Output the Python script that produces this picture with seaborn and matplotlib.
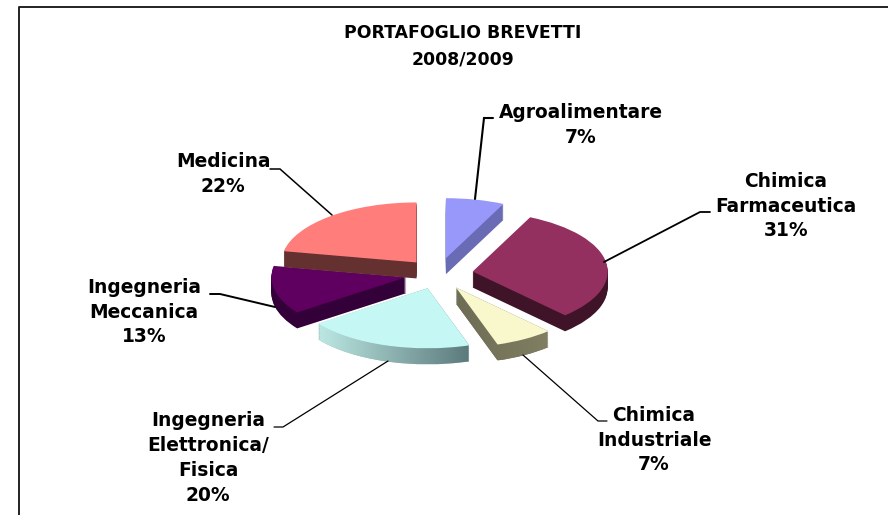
import numpy as np
import seaborn as sns
import matplotlib.pyplot as plt
from matplotlib.path import Path

sns.set_theme(style="white")
plt.rcParams['font.family'] = ['DejaVu Sans']

# Data, clockwise from 12 o'clock
categories = ['Agroalimentare', 'Chimica\nFarmaceutica', 'Chimica\nIndustriale',
              'Ingegneria\nElettronica/\nFisica', 'Ingegneria\nMeccanica', 'Medicina']
shares = [7, 31, 7, 20, 13, 22]
top_colors = ['#9798FA', '#943060', '#F8F8CC', '#C5F8F5', '#5F0060', '#FF7E7C']
side_colors = ['#6A6BB5', '#401428', '#75745A', '#92BDBB', '#33003A', '#653030']
side_gradients = {2: ('#6E6D55', '#807F62'), 3: ('#BCE8E3', '#5C7A7C')}
draw_rank = [2, 3, 4, 5, 0, 1]   # back slices first
explode = [0.27, 0.26, 0.26, 0.25, 0.24, 0.25]

title = 'PORTAFOGLIO BREVETTI\n2008/2009'
label_pos = [(581, 125), (786, 206), (654, 440), (208, 458), (144, 312), (223, 174)]
leaders = [[(493, 118), (484, 118), (475, 199)],
           [(710, 212), (700, 212), (604, 262)],
           [(607, 421), (598, 421), (523, 355)],
           [(274, 427), (283, 427), (388, 361)],
           [(210, 294), (220, 294), (275, 307)],
           [(270, 169), (280, 169), (332, 215)]]
leader_widths = [1.5, 1.3, 0.9, 0.9, 1.4, 1.1]

# Pie geometry in pixels
cx, cy = 438, 274
rx, ry = 135, 60
depth = 16

fig = plt.figure(figsize=(8.88, 5.15), dpi=100)
ax = fig.add_axes([0, 0, 1, 1])

# side walls: the same pie repeated, going down
for d in range(depth, 0, -1):
    wedges, _ = ax.pie(shares, explode=explode, colors=side_colors, startangle=90,
                       counterclock=False, center=(0, -d / ry), radius=1)
    for i, w in enumerate(wedges):
        w.set_zorder(draw_rank[i] * 3 + 1)
        w.set_linewidth(0)

tops, _ = ax.pie(shares, explode=explode, colors=top_colors, startangle=90,
                 counterclock=False, radius=1)
for i, w in enumerate(tops):
    w.set_zorder(draw_rank[i] * 3 + 3)
    w.set_linewidth(0)

# gradient on the curved walls of the two front slices
for i, (c0, c1) in side_gradients.items():
    w = tops[i]
    top_path = w.get_path().transformed(w.get_patch_transform())
    parts = [Path(top_path.vertices - [0, d / ry], top_path.codes) for d in range(0, depth + 1, 2)]
    clip = Path.make_compound_path(*parts)
    x0, x1 = clip.vertices[:, 0].min(), clip.vertices[:, 0].max()
    y0, y1 = clip.vertices[:, 1].min(), clip.vertices[:, 1].max()
    cmap = sns.blend_palette([c0, c1], as_cmap=True)
    im = ax.imshow(np.linspace(0, 1, 128)[None, :], cmap=cmap, extent=(x0, x1, y0, y1),
                   aspect='auto', zorder=draw_rank[i] * 3 + 2)
    im.set_clip_path(clip, ax.transData)

ax.set_aspect('auto')
ax.set_xlim(-cx / rx, (888 - cx) / rx)
ax.set_ylim(-(515 - cy) / ry, cy / ry)

# overlay in pixel coordinates for texts, leaders and frame
ov = fig.add_axes([0, 0, 1, 1], facecolor='none')
ov.set_xlim(0, 888)
ov.set_ylim(515, 0)
ov.axis('off')

ov.plot([18.5, 18.5, 888], [515, 6.5, 6.5], color='#222222', lw=1.4, solid_capstyle='butt',
        clip_on=False)

for pts, lw in zip(leaders, leader_widths):
    ov.plot(*zip(*pts), color='black', lw=lw, solid_joinstyle='miter')

ov.text(463, 46, title, ha='center', va='center', fontsize=12.4, fontweight='bold',
        linespacing=1.58, color='black')
for (x, y), name, s in zip(label_pos, categories, shares):
    ov.text(x, y, f'{name}\n{s}%', ha='center', va='center', fontsize=13.4,
            fontweight='bold', linespacing=1.38, color='black')

fig.savefig('out.png', dpi=100, facecolor='white')
